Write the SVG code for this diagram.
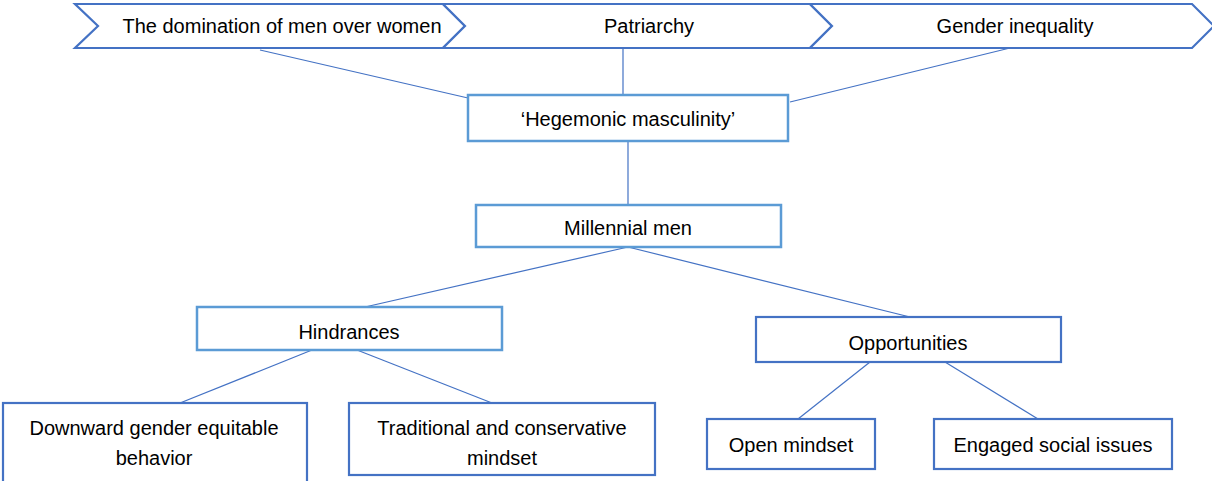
<svg xmlns="http://www.w3.org/2000/svg" width="1212" height="481" viewBox="0 0 1212 481">
<style>
.dk{fill:#fff;stroke:#4472C4;stroke-width:2.2}
.lt{fill:#fff;stroke:#5B9BD5;stroke-width:2.5}
.t{font-family:"Liberation Sans",Arial,sans-serif;font-size:20px;fill:#000;text-anchor:middle}
#connectors line{stroke:#4472C4;stroke-width:1.2}
</style>
<rect width="1212" height="481" fill="#fff"/>
<g id="connectors">
<line x1="260" y1="50" x2="468" y2="98"/>
<line x1="623" y1="48" x2="623" y2="95"/>
<line x1="1010" y1="48" x2="790" y2="102"/>
<line x1="628" y1="141" x2="628" y2="205"/>
<line x1="628" y1="247" x2="365" y2="307"/>
<line x1="628" y1="247" x2="910" y2="317"/>
<line x1="312" y1="350" x2="180" y2="403"/>
<line x1="357" y1="350" x2="492" y2="403"/>
<line x1="870" y1="362" x2="798" y2="419"/>
<line x1="945" y1="362" x2="1038" y2="419"/>
</g>
<g id="chev1"><polygon class="dk" points="75,4 443,4 465,26 443,48 75,48 98,26"/><text class="t" x="282" y="33">The domination of men over women</text></g>
<g id="chev2"><polygon class="dk" points="443,4 810,4 832,26 810,48 443,48 465,26"/><text class="t" x="649" y="33">Patriarchy</text></g>
<g id="chev3"><polygon class="dk" points="810,4 1192,4 1214,26 1192,48 810,48 832,26"/><text class="t" x="1015" y="33">Gender inequality</text></g>
<g id="hegemonic"><rect class="lt" x="468" y="95" width="320" height="46"/><text class="t" x="628" y="126">‘Hegemonic masculinity’</text></g>
<g id="millennial"><rect class="lt" x="476" y="205" width="305" height="42"/><text class="t" x="628" y="235">Millennial men</text></g>
<g id="hindrances"><rect class="lt" x="197" y="307" width="305" height="43"/><text class="t" x="349" y="339">Hindrances</text></g>
<g id="opportunities"><rect class="dk" x="756" y="317" width="305" height="45"/><text class="t" x="908" y="350">Opportunities</text></g>
<g id="downward"><rect class="dk" x="3" y="403" width="304" height="90"/><text class="t" x="154" y="435">Downward gender equitable</text><text class="t" x="154" y="465">behavior</text></g>
<g id="traditional"><rect class="dk" x="349" y="403" width="306" height="72"/><text class="t" x="502" y="435">Traditional and conservative</text><text class="t" x="502" y="465">mindset</text></g>
<g id="open"><rect class="dk" x="707" y="419" width="168" height="50"/><text class="t" x="791" y="452">Open mindset</text></g>
<g id="engaged"><rect class="dk" x="934" y="419" width="238" height="50"/><text class="t" x="1053" y="452">Engaged social issues</text></g>
</svg>
